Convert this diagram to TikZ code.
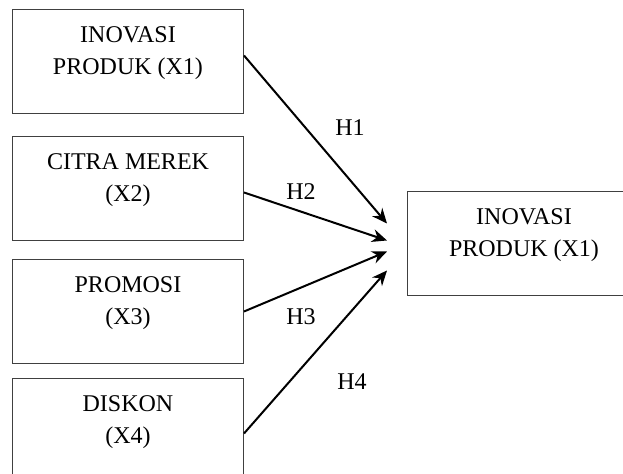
\documentclass[tikz,border=0pt]{standalone}
\usepackage{fontspec}
\setmainfont{Liberation Serif}
\usetikzlibrary{arrows.meta,positioning,calc}

\begin{document}
\begin{tikzpicture}[x=0.5pt,y=-0.5pt,
		varbox/.style={draw=black!75, line width=0.5pt, rectangle, align=center, inner sep=0pt,
			minimum width=115.5pt, text height=32.75pt, text depth=19.25pt, anchor=north west,
			font=\fontsize{12pt}{16pt}\selectfont},
		hyp/.style={-{Stealth[length=7.5pt,width=6.5pt]}, line width=1pt},
		hlabel/.style={font=\fontsize{12pt}{14pt}\selectfont}]
				\useasboundingbox (0,0) rectangle (623,474);
				
				% Draw independent variables
				\node[varbox] (inovasi) at (12,9) {INOVASI\\PRODUK (X1)};
				\node[varbox] (citra) at (12,136) {CITRA MEREK\\(X2)};
				\node[varbox] (promosi) at (12,259) {PROMOSI\\(X3)};
				\node[varbox] (diskon) at (12,378) {DISKON\\(X4)};
				
				% Draw dependent variable
				\node[varbox, minimum width=116.5pt] (dependen) at (407,191) {INOVASI\\PRODUK (X1)};
				
				% Arrow ends in front of the dependent box
				\coordinate (end1) at ([xshift=-10pt,yshift=10pt]dependen.west);
				\coordinate (end2) at ([xshift=-10pt,yshift=1.5pt]dependen.west);
				\coordinate (end3) at ([xshift=-10pt,yshift=-4pt]dependen.west);
				\coordinate (end4) at ([xshift=-10pt,yshift=-13.5pt]dependen.west);
				
				% Draw hypotheses
				\draw[hyp] ([yshift=3pt]inovasi.east) -- (end1);
				\draw[hyp] ([yshift=-2pt]citra.east) -- (end2);
				\draw[hyp] (promosi.east) -- (end3);
				\draw[hyp] ([yshift=-1.5pt]diskon.east) -- (end4);
				
				\node[hlabel] (h1) at (350,128) {H1};
				\node[hlabel] (h2) at (301,192) {H2};
				\node[hlabel] (h3) at (301,317) {H3};
				\node[hlabel] (h4) at (352,382) {H4};
			\end{tikzpicture}
\end{document}
